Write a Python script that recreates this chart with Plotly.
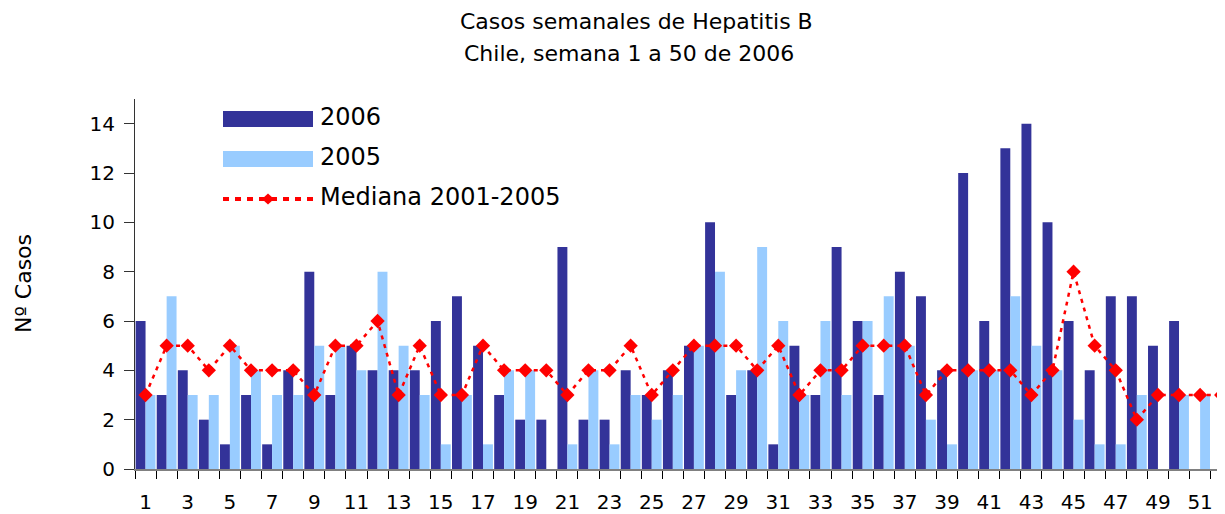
import plotly.graph_objects as go

weeks = list(range(1, 53))
cases_2006 = [6, 3, 4, 2, 1, 3, 1, 4, 8, 3, 5, 4, 4, 4, 6, 7, 5, 3, 2, 2,
              9, 2, 2, 4, 3, 4, 5, 10, 3, 4, 1, 5, 3, 9, 6, 3, 8, 7, 4, 12,
              6, 13, 14, 10, 6, 4, 7, 7, 5, 6, 0, 0]
cases_2005 = [3, 7, 3, 3, 5, 4, 3, 3, 5, 5, 4, 8, 5, 3, 1, 3, 1, 4, 4, 0,
              1, 4, 1, 3, 2, 3, 5, 8, 4, 9, 6, 3, 6, 3, 6, 7, 5, 2, 1, 4,
              4, 7, 5, 4, 2, 1, 1, 3, 0, 3, 3, 6]
median_0105 = [3, 5, 5, 4, 5, 4, 4, 4, 3, 5, 5, 6, 3, 5, 3, 3, 5, 4, 4, 4,
               3, 4, 4, 5, 3, 4, 5, 5, 5, 4, 5, 3, 4, 4, 5, 5, 5, 3, 4, 4,
               4, 4, 3, 4, 8, 5, 4, 2, 3, 3, 3, 3]
tick_weeks = list(range(1, 52, 2))
y_ticks = list(range(0, 15, 2))

title_1 = "Casos semanales de Hepatitis B"
title_2 = "Chile, semana 1 a 50 de 2006"
y_title = "Nº Casos"
legend_names = ["2006", "2005", "Mediana 2001-2005"]

DARK = "#333399"
LIGHT = "#99CCFF"
RED = "#FF0000"
FONT = "DejaVu Sans"

# the page body has an 8px margin; size the figure so it fills the window
OFF = 8
W, H = 1225 - OFF, 514 - OFF
# plot area in window pixels
SX0, SX1, SY0, SY1 = 135, 1225, 99, 469
PL = SX0 - OFF
PR = 1225 - SX1
PT = SY0 - OFF
PB = H - (SY1 - OFF)
PW = W - PL - PR
PH = H - PT - PB


def px(x):
    return (x - SX0) / PW


def py(y):
    return (SY1 - y) / PH


fig = go.Figure()
fig.add_trace(go.Bar(x=weeks, y=cases_2006, name=legend_names[0],
                     marker=dict(color=DARK, line=dict(width=0))))
fig.add_trace(go.Bar(x=weeks, y=cases_2005, name=legend_names[1],
                     marker=dict(color=LIGHT, line=dict(width=0))))
fig.add_trace(go.Scatter(x=weeks, y=median_0105, name=legend_names[2],
                         mode="lines+markers",
                         line=dict(color=RED, width=2.5, dash="4px,5px"),
                         marker=dict(symbol="diamond", size=11, color=RED)))

# custom legend (long swatches like the original)
shapes = [
    dict(type="rect", xref="paper", yref="paper", x0=px(223), x1=px(313),
         y0=py(127), y1=py(111), fillcolor=DARK, line=dict(width=0)),
    dict(type="rect", xref="paper", yref="paper", x0=px(223), x1=px(313),
         y0=py(167), y1=py(151), fillcolor=LIGHT, line=dict(width=0)),
    dict(type="line", xref="paper", yref="paper", x0=px(223), x1=px(313),
         y0=py(199), y1=py(199), line=dict(color=RED, width=4, dash="6px,6px")),
    dict(type="path", xref="paper", yref="paper",
         path=f"M {px(262)},{py(199)} L {px(268)},{py(193.5)} L {px(274)},{py(199)} L {px(268)},{py(204.5)} Z",
         fillcolor=RED, line=dict(width=0)),
]
annotations = []
for name, yc in zip(legend_names, [117, 157, 197]):
    annotations.append(dict(text=name, xref="paper", yref="paper", x=px(318), y=py(yc),
                            xanchor="left", yanchor="middle", showarrow=False,
                            font=dict(family=FONT, size=24, color="#000")))
annotations.append(dict(text=title_1, xref="paper", yref="paper", x=px(636), y=py(21.5),
                        xanchor="center", yanchor="middle", showarrow=False,
                        font=dict(family=FONT, size=22, color="#000")))
annotations.append(dict(text=title_2, xref="paper", yref="paper", x=px(629), y=py(53.5),
                        xanchor="center", yanchor="middle", showarrow=False,
                        font=dict(family=FONT, size=22, color="#000")))
annotations.append(dict(text=y_title, xref="paper", yref="paper", x=px(23), y=py(284),
                        xanchor="center", yanchor="middle", showarrow=False, textangle=-90,
                        font=dict(family=FONT, size=22, color="#000")))

fig.update_layout(
    width=W, height=H, autosize=False,
    margin=dict(l=PL, r=PR, t=PT, b=PB, pad=0),
    paper_bgcolor="white", plot_bgcolor="white",
    barmode="group", bargap=0.06, bargroupgap=0,
    showlegend=False,
    shapes=shapes, annotations=annotations,
    font=dict(family=FONT, color="#000"),
)
fig.update_xaxes(
    range=[0.5, 52.18], tickmode="array", tickvals=tick_weeks,
    ticktext=[str(w) for w in tick_weeks], ticks="", showgrid=False,
    zeroline=False, showline=True, linecolor="#808080", linewidth=2,
    automargin=False,
    tickfont=dict(family=FONT, size=20, color="#000"), ticklabelstandoff=14,
    minor=dict(tick0=0.5, dtick=1, ticks="outside", ticklen=8,
               tickcolor="#000", tickwidth=1, showgrid=False),
)
fig.update_yaxes(
    range=[0, 15], tickmode="array", tickvals=y_ticks, ticks="outside",
    ticklen=10, tickcolor="#333", tickwidth=1, showgrid=False, zeroline=False,
    showline=True, linecolor="#333", linewidth=1, automargin=False,
    tickfont=dict(family=FONT, size=20, color="#000"), ticklabelstandoff=5,
)

fig.write_html("out.html")
